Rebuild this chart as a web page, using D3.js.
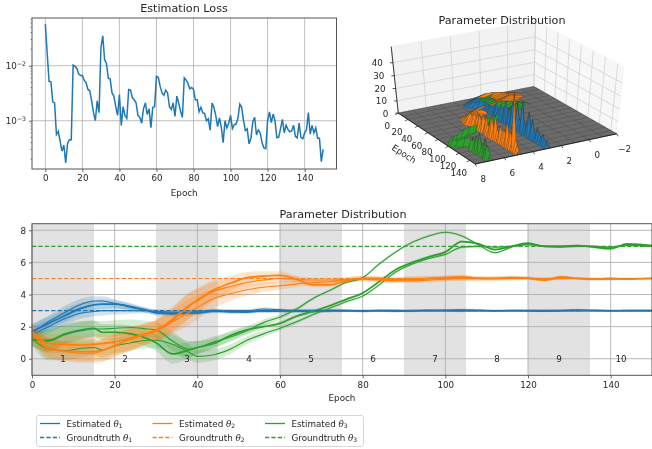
<!DOCTYPE html>
<html>
<head>
<meta charset="utf-8">
<script src="https://cdn.jsdelivr.net/npm/d3@7"></script>
<style>
  html, body { margin: 0; padding: 0; background: #fff; }
  svg { display: block; filter: blur(0.35px); }
  text { font-family: "DejaVu Sans", sans-serif; fill: #262626; }
</style>
</head>
<body>
<svg id="chart" width="652" height="449"></svg>
<script>
"use strict";

var lossValues = [
  .057, .017, .0052, .0051, .0022, .0021, .00056, .00064, .00042, .00028,
  .00036, .00017, .00039, .00045, .00045, .0103, .0098, .0089, .0071, .0066,
  .0066, .0054, .0049, .0037, .0035, .0023, .0014, .00100, .0023, .0014,
  .021, .035, .0128, .0110, .0059, .0057, .0032, .0028, .0018, .00125,
  .0030, .00082, .0018, .00125, .00110, .0037, .0036, .0026, .0024, .0021,
  .00125, .00115, .00090, .00165, .0021, .00130, .00165, .00075, .00175, .00180,
  .0064, .0061, .0042, .0032, .0029, .0036, .0032, .00180, .00160, .0021,
  .00120, .0028, .0021, .00150, .00115, .0060, .0055, .0048, .0038, .0040,
  .0037, .0024, .0024, .00145, .00175, .00140, .00135, .00100, .00108, .00067,
  .0021, .00175, .00125, .00078, .00112, .00076, .00040, .00100, .00074, .00090,
  .00125, .00072, .00085, .00087, .00112, .0020, .00175, .00100, .00066, .00071,
  .00038, .00048, .00095, .00115, .00055, .00068, .00060, .00040, .00032, .00031,
  .00100, .00145, .00092, .00132, .00100, .00049, .00050, .00072, .00106, .00060,
  .00083, .00069, .00063, .00065, .00083, .00052, .00049, .00090, .00050, .00047,
  .00060, .00069, .00140, .00057, .00082, .00060, .00074, .00048, .00048, .00018,
  .00030
];
var lossEpochs = d3.range(0, 151);

var knotEpochs = [0,4,8,12,15,17,20,24,28,30,34,38,40,44,48,52,56,60,64,68,72,76,80,84,88,92,96,100,104,108,112,116,120,124,128,132,136,140,144,150];

var blueLines = [
  [1.7,2.2,2.7,3.15,3.35,3.4,3.4,3.25,3.0,2.85,2.8,2.85,2.85,3.0,2.95,2.9,3.0,3.0,3.0,2.95,3.0,3.0,2.98,3.0,3.0,2.98,3.0,3.0,3.0,3.0,2.98,3.0,3.0,3.0,3.0,3.0,3.0,2.98,3.0,3.0],
  [1.6,2.3,2.9,3.4,3.6,3.6,3.45,3.2,3.0,2.9,2.85,2.85,2.85,2.95,2.9,2.95,3.1,3.05,2.95,2.95,3.0,3.0,2.95,3.0,3.0,3.0,3.0,3.02,3.05,3.02,3.0,3.0,2.98,2.95,3.0,3.05,3.0,3.0,3.0,3.0],
  [1.5,2.0,2.5,2.85,2.95,3.0,3.0,3.0,3.0,2.95,2.9,2.9,2.95,3.0,3.0,3.0,2.95,2.95,3.0,3.02,3.0,2.98,3.0,3.0,2.95,3.0,3.02,3.0,2.98,3.0,3.0,3.0,3.0,3.0,3.0,3.0,3.02,3.0,3.0,3.0]
];
var orangeLines = [
  [1.7,.95,.9,.85,.9,.95,1.05,1.3,1.6,1.8,2.4,3.3,3.65,4.3,4.7,5.05,5.15,5.2,4.95,4.6,4.6,4.85,5.0,5.0,4.95,4.95,5.0,5.05,5.1,5.02,5.0,5.05,5.02,4.9,5.1,5.0,4.95,5.0,4.95,5.0],
  [1.6,.7,.5,.45,.45,.55,.8,1.25,1.6,1.75,2.5,3.3,3.6,4.2,4.5,4.75,4.9,5.0,4.95,4.9,4.9,4.95,5.0,4.95,4.9,5.0,5.0,5.0,5.02,5.0,5.0,5.02,5.0,4.98,5.0,5.0,5.0,4.98,5.0,5.0],
  [1.65,.6,.45,.35,.35,.5,.85,1.2,1.55,1.7,2.3,2.9,3.2,3.75,4.05,4.3,4.45,4.55,4.65,4.75,4.8,4.9,4.95,4.9,4.85,4.85,4.9,4.95,5.0,4.98,5.0,5.0,5.0,4.95,5.02,5.0,4.95,4.95,5.0,5.0]
];
var greenLines = [
  [1.2,1.15,1.55,1.8,1.9,1.65,1.65,1.55,1.25,1.0,.3,.55,.7,.95,1.45,1.8,2.0,2.2,2.65,2.95,3.3,3.7,4.1,4.8,5.55,6.0,6.35,6.65,7.3,7.15,6.8,7.0,7.2,7.0,7.0,7.05,6.95,6.85,7.15,7.05],
  [1.25,.6,.5,.65,.7,.55,.8,1.0,1.15,1.15,.9,.4,.15,.25,.6,1.15,1.55,1.9,2.3,2.75,3.15,3.55,3.9,4.6,5.4,5.9,6.25,6.5,6.95,7.0,6.95,7.0,7.1,7.0,6.95,7.0,7.0,6.95,7.05,7.0],
  [1.2,1.1,1.5,1.75,1.85,1.85,1.9,1.95,1.85,1.8,1.1,.6,.7,1.05,1.35,1.75,2.25,2.6,3.1,3.75,4.25,4.75,5.05,5.9,6.65,7.25,7.65,7.88,7.65,7.1,6.6,6.95,7.15,7.0,7.0,7.0,7.0,6.9,7.1,7.0]
];

var blueSpread = [.5,.4,.4,.35,.3,.3,.25,.2,.15,.15,.15,.15,.12,.12,.1,.1,.1,.1,.1,.1,.1,.08,.08,.08,.08,.08,.08,.08,.08,.08,.06,.06,.06,.06,.06,.06,.06,.06,.06,.06];
var orangeSpread = [.5,.6,.6,.6,.6,.7,.7,.7,.65,.65,.75,.8,.75,.6,.45,.35,.3,.25,.2,.15,.15,.15,.15,.15,.15,.15,.15,.15,.15,.12,.12,.12,.1,.1,.1,.08,.08,.08,.06,.06];
var greenSpread = [.4,.7,.6,.55,.5,.5,.5,.5,.5,.5,.6,.5,.4,.35,.3,.25,.2,.15,.12,.1,.08,.08,.08,.08,.08,.08,.08,.08,.08,.08,.06,.06,.06,.06,.06,.06,.06,.06,.06,.06];

var thetaColors = ["#1f77b4", "#ff7f0e", "#2ca02c"];
var groundTruth = [3, 5, 7];
var stageStarts = [0, 30, 60, 90, 120];
var stageLabels = ["1","2","3","4","5","6","7","8","9","10"];

// density peak heights, one every 3 epochs
var densityEpochs = d3.range(0, 151, 3);
var blueDensity = [2,2,2,2,3,3,3,4,4,5,5,6,6,6,6,7,7,8,9,12,8,10,14,9,12,18,10,14,9,20,11,8,22,10,8,25,9,7,14,20,7,16,8,6,12,7,5,9,6,4,7];
var orangeDensity = [2,2,2,2,2,2,3,3,3,3,3,4,4,5,5,5,6,6,7,6,9,7,10,8,12,8,13,8,14,9,15,9,7,13,17,9,20,10,8,14,10,13,9,21,11,15,9,45,11,7,4];
var greenDensity = [2,2,2,2,2,2,3,3,3,3,3,3,3,3,4,4,4,4,4,5,5,5,5,5,6,6,6,6,6,6,4,4,4,5,5,5,7,6,8,6,9,7,13,9,17,7,10,15,7,12,6];

var svg = d3.select("#chart");

function styleAxis(g) {
  g.selectAll("path").attr("stroke", "#555").attr("stroke-width", 1);
  g.selectAll(".tick line").attr("stroke", "#444").attr("stroke-width", 0.8);
  g.selectAll(".tick text").attr("font-size", 8.75).style("fill", "#262626");
}

function spines(x0, x1, y0, y1) {
  svg.append("rect").attr("x", x0).attr("y", y0)
    .attr("width", x1 - x0).attr("height", y1 - y0)
    .attr("fill", "none").attr("stroke", "#555").attr("stroke-width", 1);
}

function title(str, x, y) {
  svg.append("text").attr("x", x).attr("y", y).attr("text-anchor", "middle")
    .attr("font-size", 11.2).text(str);
}

// ---- loss panel
function drawLoss() {
  var L = 32, R = 336.5, T = 18, B = 169;
  var x = d3.scaleLinear().domain([-7.2, 157.2]).range([L, R]);
  var y = d3.scaleLog().domain([Math.pow(10, -1.133), Math.pow(10, -3.878)]).range([T, B]);
  var g = svg.append("g");

  g.selectAll(".vgrid").data(d3.range(0, 141, 20)).enter().append("line")
    .attr("x1", x).attr("x2", x).attr("y1", T).attr("y2", B)
    .attr("stroke", "#b0b0b0").attr("stroke-width", 0.8);
  g.selectAll(".hgrid").data([1e-2, 1e-3]).enter().append("line")
    .attr("x1", L).attr("x2", R).attr("y1", y).attr("y2", y)
    .attr("stroke", "#b0b0b0").attr("stroke-width", 0.8);

  var line = d3.line().x(function (d, i) { return x(lossEpochs[i]); }).y(function (d) { return y(d); });
  g.append("path").datum(lossValues).attr("d", line)
    .attr("fill", "none").attr("stroke", thetaColors[0]).attr("stroke-width", 1.5);

  spines(L, R, T, B);

  svg.append("g").attr("transform", "translate(0," + B + ")")
    .call(d3.axisBottom(x).tickValues(d3.range(0, 141, 20)).tickSize(3).tickPadding(3).tickSizeOuter(0))
    .call(styleAxis).select("path").remove();

  var minor = [];
  [-4, -3, -2].forEach(function (e) {
    d3.range(2, 10).forEach(function (m) {
      var v = m * Math.pow(10, e);
      if (v > y.domain()[1] && v < y.domain()[0]) minor.push(v);
    });
  });
  svg.selectAll(".minor").data(minor).enter().append("line")
    .attr("x1", L - 1.7).attr("x2", L).attr("y1", y).attr("y2", y)
    .attr("stroke", "#444").attr("stroke-width", 0.5);

  var yAxis = svg.append("g").attr("transform", "translate(" + L + ",0)")
    .call(d3.axisLeft(y).tickValues([1e-2, 1e-3]).tickSize(3).tickPadding(3).tickSizeOuter(0).tickFormat(function () { return ""; }))
    .call(styleAxis);
  yAxis.select("path").remove();
  yAxis.selectAll(".tick text").each(function (d) {
    var t = d3.select(this);
    t.append("tspan").text("10");
    t.append("tspan").attr("dy", -3.5).attr("font-size", 6.2).text("\u2212" + Math.round(-Math.log10(d)));
  });

  svg.append("text").attr("x", x(75)).attr("y", 196).attr("text-anchor", "middle")
    .attr("font-size", 8.75).text("Epoch");
  title("Estimation Loss", 184, 12);
}

// ---- 3D panel
var xNorm = d3.scaleLinear().domain([-2, 8]).range([0, 1]);
var epochNorm = d3.scaleLinear().domain([0, 150]).range([0, 1]);
var zNorm = d3.scaleLinear().domain([0, 52]).range([0, 1]);

var azim = 60 * Math.PI / 180, elev = 40 * Math.PI / 180;
var view3 = { cx: 506, cy: 91, sx: 165, sy: 87, dist: 10 };

function proj(xv, ev, zv) {
  var u = xNorm(xv) - 0.5, v = epochNorm(ev) - 0.5, w = zNorm(zv) - 0.5;
  var ca = Math.cos(azim), sa = Math.sin(azim), ce = Math.cos(elev), se = Math.sin(elev);
  var xc = -sa * u + ca * v;
  var yc = -se * ca * u - se * sa * v + ce * w;
  var zc = ce * ca * u + ce * sa * v + se * w;
  var f = view3.dist / (view3.dist - zc);
  return [view3.cx + view3.sx * xc * f, view3.cy - view3.sy * yc * f];
}

function poly(points) {
  return d3.line()(points) + "Z";
}

function draw3D() {
  var g = svg.append("g");
  var xT = [-2, 0, 2, 4, 6, 8], eT = d3.range(0, 141, 20), zT = d3.range(0, 41, 10);

  g.append("path").attr("d", poly([proj(8,0,0), proj(-2,0,0), proj(-2,0,52), proj(8,0,52)]))
    .attr("fill", "#f2f2f2").attr("stroke", "#f2f2f2");
  g.append("path").attr("d", poly([proj(-2,0,0), proj(-2,150,0), proj(-2,150,52), proj(-2,0,52)]))
    .attr("fill", "#f7f7f7").attr("stroke", "#f7f7f7");

  var gridStroke = "#cfcfcf";
  xT.forEach(function (t) {
    g.append("path").attr("d", d3.line()([proj(t,0,0), proj(t,0,52)])).attr("stroke", gridStroke).attr("stroke-width", 0.7);
  });
  eT.forEach(function (t) {
    g.append("path").attr("d", d3.line()([proj(-2,t,0), proj(-2,t,52)])).attr("stroke", gridStroke).attr("stroke-width", 0.7);
  });
  zT.forEach(function (t) {
    g.append("path").attr("d", d3.line()([proj(8,0,t), proj(-2,0,t), proj(-2,150,t)])).attr("fill", "none").attr("stroke", gridStroke).attr("stroke-width", 0.7);
  });

  // floor of the density surface
  g.append("path").attr("d", poly([proj(8,0,0), proj(8,150,0), proj(-2,150,0), proj(-2,0,0)]))
    .attr("fill", "#6b6b6b").attr("stroke", "#555").attr("stroke-width", 0.4);
  d3.range(0, 151, 10).forEach(function (e) {
    g.append("path").attr("d", d3.line()([proj(8,e,0), proj(-2,e,0)])).attr("stroke", "#444").attr("stroke-width", 0.35);
  });
  d3.range(-2, 8.01, 1).forEach(function (t) {
    g.append("path").attr("d", d3.line()([proj(t,0,0), proj(t,150,0)])).attr("stroke", "#444").attr("stroke-width", 0.35);
  });

  // ridges, painted back to front; each ridge follows one estimated run
  var sets = [
    { line: blueLines[0], spread: blueSpread, density: blueDensity, color: thetaColors[0] },
    { line: orangeLines[1], spread: orangeSpread, density: orangeDensity, color: thetaColors[1] },
    { line: greenLines[2], spread: greenSpread, density: greenDensity, color: thetaColors[2] }
  ];
  var faces = [];
  sets.forEach(function (s) {
    var centre = d3.scaleLinear().domain(knotEpochs).range(s.line);
    var width = d3.scaleLinear().domain(knotEpochs).range(s.spread);
    densityEpochs.slice(0, -1).forEach(function (e, i) {
      var e2 = densityEpochs[i + 1];
      var c1 = centre(e), c2 = centre(e2);
      var w1 = Math.max(0.2, width(e) * 1.6), w2 = Math.max(0.2, width(e2) * 1.6);
      var h1 = s.density[i], h2 = s.density[i + 1];
      faces.push({ depth: e + c1 * 10 - 500, color: s.color, pts: [proj(c1 - w1, e, 0), proj(c1, e, h1), proj(c2, e2, h2), proj(c2 - w2, e2, 0)] });
      faces.push({ depth: e + c1 * 10 + 500, color: s.color, pts: [proj(c1 + w1, e, 0), proj(c1, e, h1), proj(c2, e2, h2), proj(c2 + w2, e2, 0)] });
    });
  });
  faces.sort(function (a, b) { return (a.depth) - (b.depth); });
  g.selectAll(".face").data(faces).enter().append("path")
    .attr("d", function (d) { return poly(d.pts); })
    .attr("fill", function (d) { return d.color; })
    .attr("stroke", "#333").attr("stroke-width", 0.25);

  // axes
  var axisStroke = "#111";
  g.append("path").attr("d", d3.line()([proj(8,0,0), proj(8,150,0), proj(-2,150,0)])).attr("fill", "none").attr("stroke", axisStroke).attr("stroke-width", 0.8);
  g.append("path").attr("d", d3.line()([proj(8,0,0), proj(8,0,52)])).attr("fill", "none").attr("stroke", axisStroke).attr("stroke-width", 0.8);

  eT.forEach(function (t) {
    var p = proj(8, t, 0);
    g.append("path").attr("d", d3.line()([p, [p[0] - 3, p[1] + 1.5]])).attr("stroke", axisStroke).attr("stroke-width", 0.7);
    g.append("text").attr("x", p[0] - 11).attr("y", p[1] + 16).attr("text-anchor", "middle").attr("font-size", 8.75).text(t);
  });
  xT.forEach(function (t) {
    var p = proj(t, 150, 0);
    g.append("path").attr("d", d3.line()([p, [p[0] + 1.5, p[1] + 2.5]])).attr("stroke", axisStroke).attr("stroke-width", 0.7);
    g.append("text").attr("x", p[0] + 8).attr("y", p[1] + 18).attr("text-anchor", "middle").attr("font-size", 8.75).text(t === -2 ? "\u22122" : t);
  });
  zT.forEach(function (t) {
    var p = proj(8, 0, t);
    g.append("path").attr("d", d3.line()([p, [p[0] - 3, p[1]]])).attr("stroke", axisStroke).attr("stroke-width", 0.7);
    g.append("text").attr("x", p[0] - 10).attr("y", p[1] + 3.5).attr("text-anchor", "end").attr("font-size", 8.75).text(t);
  });

  g.append("text").attr("transform", "translate(404,154) rotate(33)").attr("dy", "0.35em")
    .attr("text-anchor", "middle").attr("font-size", 8.75).text("Epoch");
  title("Parameter Distribution", 502, 24);
}

// ---- bottom panel
function drawStages() {
  var L = 32, R = 652, T = 223.7, B = 375.3;
  var x = d3.scaleLinear().domain([0, 150]).range([L, R]);
  var y = d3.scaleLinear().domain([-1.03, 8.41]).range([B, T]);
  var g = svg.append("g");

  g.selectAll(".stage").data(stageStarts).enter().append("rect")
    .attr("x", x).attr("y", T)
    .attr("width", function (d) { return x(d + 15) - x(d); })
    .attr("height", B - T).attr("fill", "#e2e2e2");

  g.selectAll(".vgrid").data(d3.range(0, 141, 20)).enter().append("line")
    .attr("x1", x).attr("x2", x).attr("y1", T).attr("y2", B)
    .attr("stroke", "#b0b0b0").attr("stroke-width", 0.9);
  g.selectAll(".hgrid").data(d3.range(0, 9, 2)).enter().append("line")
    .attr("x1", L).attr("x2", R).attr("y1", y).attr("y2", y)
    .attr("stroke", "#b0b0b0").attr("stroke-width", 0.9);

  var curve = d3.curveMonotoneX;
  var area = d3.area().curve(curve).x(function (d) { return x(d.e); })
    .y0(function (d) { return y(d.v - d.s); }).y1(function (d) { return y(d.v + d.s); });
  var line = d3.line().curve(curve).x(function (d, i) { return x(knotEpochs[i]); }).y(function (d) { return y(d); });

  // orange sits over green where the two cross
  var order = [0, 2, 1];
  var sets = [blueLines, orangeLines, greenLines];
  var spreads = [blueSpread, orangeSpread, greenSpread];
  order.forEach(function (c) {
    sets[c].forEach(function (vals) {
      var rows = vals.map(function (v, i) { return { e: knotEpochs[i], v: v, s: spreads[c][i] }; });
      g.append("path").attr("d", area(rows)).attr("fill", thetaColors[c]).attr("fill-opacity", 0.2);
    });
  });
  order.forEach(function (c) {
    sets[c].forEach(function (vals, k) {
      g.append("path").attr("d", line(vals)).attr("fill", "none")
        .attr("stroke", thetaColors[c]).attr("stroke-width", k === 0 ? 1.7 : 1.1);
    });
  });

  groundTruth.forEach(function (v, c) {
    g.append("line").attr("x1", L).attr("x2", R).attr("y1", y(v)).attr("y2", y(v))
      .attr("stroke", thetaColors[c]).attr("stroke-width", 1.1).attr("stroke-dasharray", "4.2,2.2");
  });

  g.selectAll(".stage-label").data(stageLabels).enter().append("text")
    .attr("x", function (d, i) { return x(7.5 + i * 15); })
    .attr("y", y(0)).attr("dy", "0.35em").attr("text-anchor", "middle")
    .attr("font-size", 8.75).text(function (d) { return d; });

  spines(L, R, T, B);

  svg.append("g").attr("transform", "translate(0," + B + ")")
    .call(d3.axisBottom(x).tickValues(d3.range(0, 141, 20)).tickSize(3).tickPadding(3).tickSizeOuter(0))
    .call(styleAxis).select("path").remove();
  svg.append("g").attr("transform", "translate(" + L + ",0)")
    .call(d3.axisLeft(y).tickValues(d3.range(0, 9, 2)).tickSize(3).tickPadding(3).tickSizeOuter(0))
    .call(styleAxis).select("path").remove();

  svg.append("text").attr("x", x(75)).attr("y", 401).attr("text-anchor", "middle")
    .attr("font-size", 8.75).text("Epoch");
  title("Parameter Distribution", 343, 218);
}

function drawLegend() {
  var g = svg.append("g");
  g.append("rect").attr("x", 36.5).attr("y", 415.5).attr("width", 327).attr("height", 31).attr("rx", 2)
    .attr("fill", "#fff").attr("stroke", "#ccc").attr("stroke-width", 0.8);
  var cols = [40, 152.5, 265];
  var subs = ["1", "2", "3"];
  var rows = [{ name: "Estimated ", dash: null, y: 423.5 }, { name: "Groundtruth ", dash: "4.2,2.2", y: 437.5 }];
  cols.forEach(function (cx, c) {
    rows.forEach(function (r) {
      g.append("line").attr("x1", cx).attr("x2", cx + 20).attr("y1", r.y).attr("y2", r.y)
        .attr("stroke", thetaColors[c]).attr("stroke-width", 1.3).attr("stroke-dasharray", r.dash);
      var t = g.append("text").attr("x", cx + 26.5).attr("y", r.y + 3).attr("font-size", 8.75);
      t.append("tspan").text(r.name);
      t.append("tspan").attr("font-style", "italic").attr("font-family", "DejaVu Serif").text("\u03b8");
      t.append("tspan").attr("dy", 1.5).attr("font-size", 6).text(subs[c]);
    });
  });
}

drawLoss();
draw3D();
drawStages();
drawLegend();
</script>
</body>
</html>
